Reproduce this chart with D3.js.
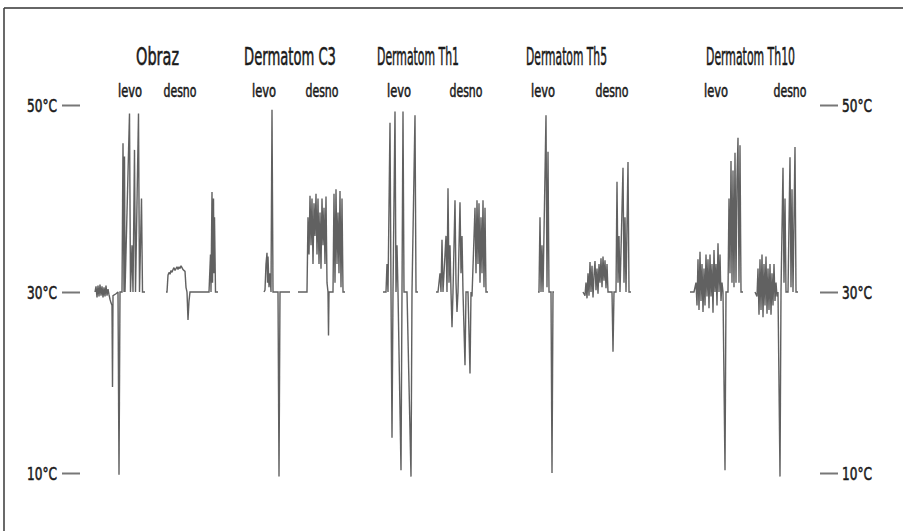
<!DOCTYPE html>
<html>
<head>
<meta charset="utf-8">
<script src="https://cdn.jsdelivr.net/npm/d3@7"></script>
<style>
  html, body { margin: 0; padding: 0; background: #fff; }
  svg { display: block; }
  .lbl { font-family: "DejaVu Sans Condensed", "DejaVu Sans", "Liberation Sans", sans-serif; fill: #1a1a1a; stroke: #1a1a1a; stroke-width: 0.55; }
</style>
</head>
<body>
<svg id="chart" width="903" height="531"></svg>
<script>
// Skin temperature recordings (°C) over time, left (levo) and right (desno) side per region.
const regions = ["Obraz", "Dermatom C3", "Dermatom Th1", "Dermatom Th5", "Dermatom Th10"];
const regionCentres = [77.5, 210, 338, 486.5, 670.5];
const levoCentres = [50, 184, 319, 463, 636];
const desnoCentres = [100, 242, 386, 532, 710];
const tempTicks = [10, 30, 50];

// [time, temperature] samples; null marks a gap in the recording
const obrazLevo = [[15,30],[16,30.6],[17,29.4],[18,30.7],[19,29.5],[20,30.8],[21,29.6],[22,30.6],[23,29.4],[24,30.5],[25,29.5],[26,30.7],[27,29.6],[28,30.3],[29,29.7],[30,29.2],[31,28.8],[32,28.5],[32.5,19.5],[33,29.6],[36,29.8],[38,30],[39,9.8],[40,30],[42,30],[43,45.9],[44,30],[44.5,44.5],[45,30],[49.5,49.1],[50.5,30],[52,35],[53,30],[54.5,45.2],[55.5,30],[58.5,49.1],[59.5,30],[61.5,40],[62.5,30],[65,30]];
const obrazDesno = [[86,30],[87,30],[88,31.8],[89,32.1],[90,31.9],[91,32.3],[92,32.1],[93,32.4],[94,32.6],[95,32.3],[96,32.5],[97,32.7],[98,32.4],[99,32.7],[100,32.5],[101,32.8],[102,32.6],[103,32.4],[105,32.2],[106,30.5],[107,30],[108,26.9],[109,29],[110,30],[129,30],[130.5,34],[131,30],[132,40.7],[132.5,31],[133.5,40],[134,32],[134.5,38],[135.5,30],[138,30]];
const c3Levo = [[184,30],[185,30.2],[186,33],[187,34.2],[187.5,31],[188,33.8],[189,30.5],[190,32],[191,30],[192,49.5],[193,30],[198,30],[199,9.6],[200,30],[210,30],[210,null],[218,30],[225,30]];
const c3Desno = [[225,30],[227,30],[228,38],[229,34],[230,40.3],[231,35],[232,40],[233,33],[234,39.5],[235,36],[236,40.5],[237,34],[238,40],[239,33],[240,38.5],[241,32.5],[242,40],[243,35],[244,39],[245,33],[246,40.2],[247,31],[248,30],[248.5,25.2],[249,30],[253,30],[254,40.5],[255,31],[256,41],[257,33],[258,38.5],[259,32],[260,40.8],[261,30.5],[262,40],[263,30],[265,30]];
const th1Levo = [[303,30],[306,30],[307,33],[308,30],[310,48.1],[311,30],[312,13.9],[313,30],[315,49.3],[316,30],[317,35],[318,30],[321,10.3],[322,30],[323,49.3],[324,30],[327,30],[331,9.6],[332,30],[335,48.9],[336,30],[338,30]];
const th1Desno = [[356,30],[358,30],[360,32],[361,30],[362,35.6],[363,30],[366,36],[367,30],[368,41.1],[369,31],[370,35],[371,30],[372,26.1],[373,30],[375,39.8],[376,31],[377,27.8],[378,30],[380,39.6],[381,32],[382,36],[383,30],[385,21.9],[386,30],[388,30],[390,21],[391,30],[392,29.5],[395,39],[396,32],[397,39.8],[398,33],[399,39.5],[400,31],[401,38],[402,32],[403,39.8],[404,30.5],[405,39],[406,30],[408,30]];
const th5Levo = [[458,30],[459,30],[460,38],[461,30],[462,35],[463,30],[466,48.9],[467,30.5],[468,45],[469,30],[471,30],[472,10],[473,30],[474,30]];
const th5Desno = [[503,30],[505,29.6],[506,31],[507,29.3],[508,32],[509,29.6],[510,33.2],[511,30],[512,32.8],[513,29.4],[514,31.8],[515,33.3],[516,30.2],[517,32.5],[518,29.8],[519,33],[520,31],[521,33.6],[522,30.5],[523,33.8],[524,31.2],[525,33.4],[526,30.4],[527,33],[528,30],[532,30],[533,23.4],[534,30],[536,30],[537,41.8],[538,31],[539,36],[540,30],[543,43.3],[544,31],[545,38],[546,30],[548,43.9],[549,30],[551,30]];
const th10Levo = [[610,30],[614,30],[616,31],[617,28.5],[618,33.5],[619,28],[620,34.3],[621,29],[622,33],[623,27.8],[624,32.5],[625,28.5],[626,34],[627,29.5],[628,33.5],[629,28.2],[630,34],[631,29.5],[632,33],[633,27.7],[634,34.5],[635,30],[636,33],[637,28.5],[638,35.2],[639,30],[640,34],[641,29],[642,31],[643,30],[645,10.3],[646,30],[648,30],[649,40],[650,32],[651,44],[652,31],[653,43],[654,30.5],[655,44.9],[656,31],[657,42],[658,46.5],[659,31],[660,45.7],[661,30],[663,30]];
const th10Desno = [[675,30],[677,29.5],[678,32.5],[679,27.5],[680,33.5],[681,28],[682,34],[683,27.2],[684,33],[685,28.5],[686,33.8],[687,27.6],[688,32.5],[689,28],[690,33],[691,27.5],[692,32],[693,28.5],[694,33],[695,29],[696,31],[697,29.5],[698,30],[700,9.6],[701,30],[703,43.3],[704,31],[705,40],[706,30],[708,30],[710,44.4],[711,30.5],[712,41],[713,30],[715,45.5],[716,30],[718,30]];

const traces = [obrazLevo, obrazDesno, c3Levo, c3Desno, th1Levo, th1Desno, th5Levo, th5Desno, th10Levo, th10Desno];

const svg = d3.select("#chart");
const W = 903, H = 531;

const x = d3.scaleLinear().domain([0, 740]).range([80, 820]);
const y = d3.scaleLinear().domain([10, 30, 50]).range([473, 292, 105]);

// frame: top and left rules
svg.append("line").attr("x1", 4).attr("x2", W).attr("y1", 8).attr("y2", 8)
  .attr("stroke", "#333").attr("stroke-width", 1.6);
svg.append("line").attr("x1", 4).attr("x2", 4).attr("y1", 8).attr("y2", H)
  .attr("stroke", "#444").attr("stroke-width", 1.6);

// soft ink for the recorder traces
const defs = svg.append("defs");
defs.append("filter").attr("id", "ink").attr("x", "-5%").attr("y", "-5%").attr("width", "110%").attr("height", "110%")
  .append("feGaussianBlur").attr("stdDeviation", 0.7);

// squeeze a text horizontally to a target width, anchored at (ax, ay)
function fitWidth(sel, ax, ay, target) {
  sel.each(function (d, i) {
    const el = d3.select(this);
    el.attr("x", 0).attr("y", 0);
    const w = this.getComputedTextLength();
    const sx = target(d, i) / w;
    el.attr("transform", `translate(${ax(d, i)},${ay(d, i)}) scale(${sx},1)`);
  });
}

// temperature axes on both sides
const fmt = d => d + "°C";
const left = svg.append("g").attr("transform", `translate(${x(0)},0)`)
  .call(d3.axisLeft(y).tickValues(tempTicks).tickSize(18).tickPadding(5).tickFormat(fmt));
const right = svg.append("g").attr("transform", `translate(${x(740)},0)`)
  .call(d3.axisRight(y).tickValues(tempTicks).tickSize(18).tickPadding(4).tickFormat(fmt));
[[left, -23], [right, 22]].forEach(([g, off]) => {
  g.select(".domain").remove();
  g.selectAll(".tick line").attr("stroke", "#777").attr("stroke-width", 2);
  const t = g.selectAll(".tick text").attr("class", "lbl").attr("font-size", 17.5)
    .attr("font-family", null).attr("dy", "0.36em");
  fitWidth(t, () => off, () => 0, () => 30);
});

// region titles
const titleWidths = [43, 92, 82, 81, 89];
const titles = svg.selectAll("text.title").data(regions).join("text")
  .attr("class", "lbl title")
  .attr("text-anchor", "middle")
  .attr("font-size", 24.5)
  .text(d => d);
fitWidth(titles, (d, i) => x(regionCentres[i]), () => 65, (d, i) => titleWidths[i]);

// side labels
const sideLabels = [];
levoCentres.forEach((c, i) => {
  sideLabels.push({ text: "levo", t: c });
  sideLabels.push({ text: "desno", t: desnoCentres[i] });
});
const sides = svg.selectAll("text.side").data(sideLabels).join("text")
  .attr("class", "lbl side")
  .attr("text-anchor", "middle")
  .attr("font-size", 17)
  .text(d => d.text);
fitWidth(sides, d => x(d.t), () => 97, d => d.text === "levo" ? 24 : 33);

// recorder traces
const line = d3.line()
  .defined(d => d[1] !== null)
  .x(d => x(d[0]))
  .y(d => y(d[1]));

const g = svg.append("g").attr("filter", "url(#ink)");
g.selectAll("path.trace").data(traces).join("path")
  .attr("class", "trace")
  .attr("d", line)
  .attr("fill", "none")
  .attr("stroke", "#333")
  .attr("stroke-opacity", 0.78)
  .attr("stroke-width", 1.4)
  .attr("stroke-linejoin", "miter")
  .attr("stroke-miterlimit", 2);
</script>
</body>
</html>
